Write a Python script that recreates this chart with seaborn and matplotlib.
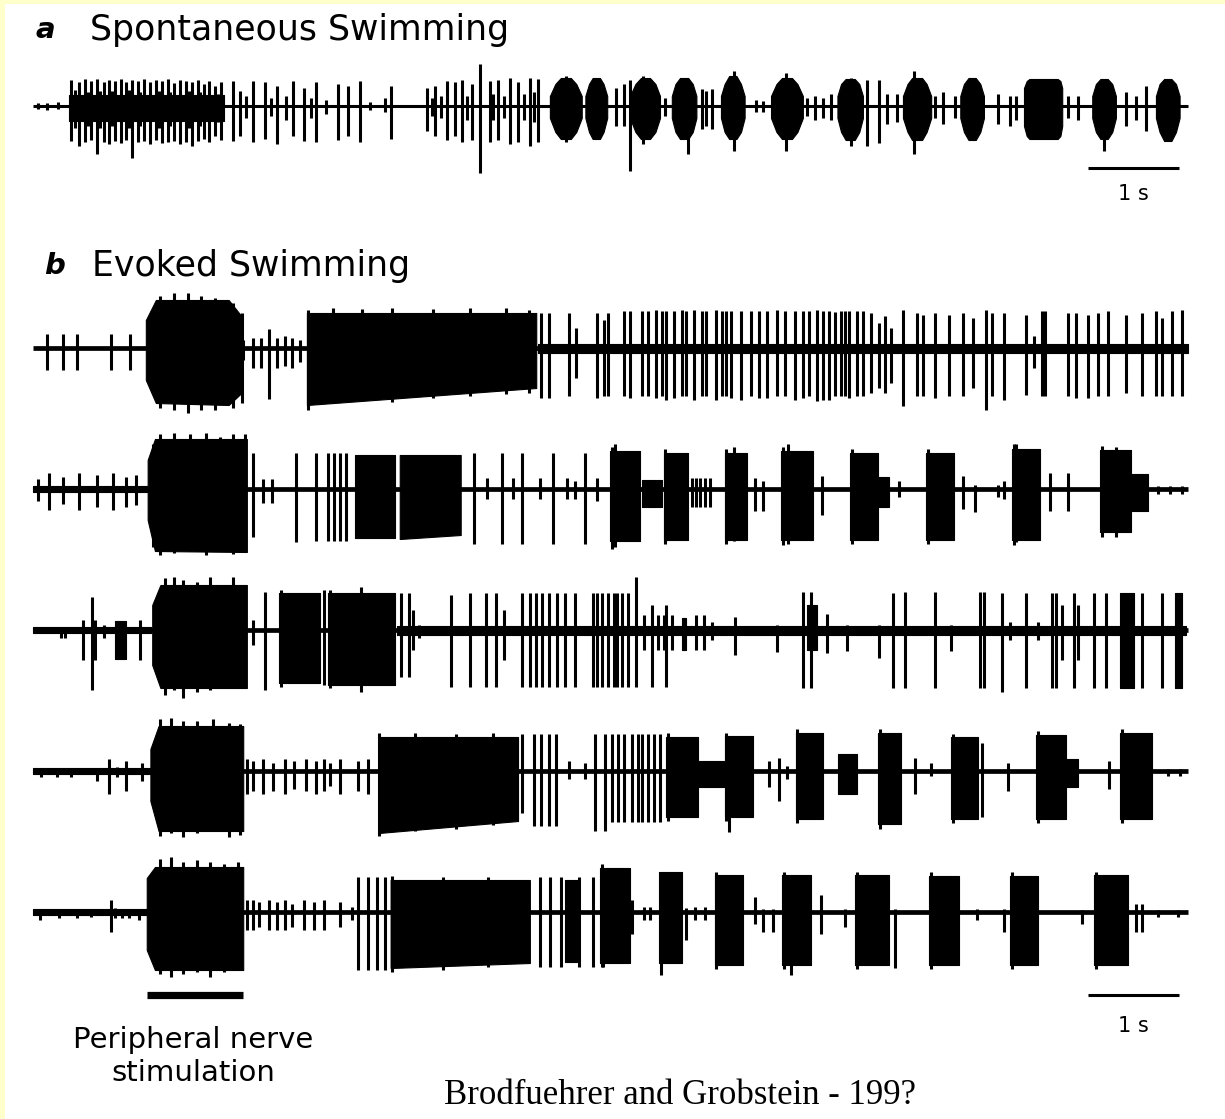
import matplotlib
matplotlib.use("Agg")
import matplotlib.pyplot as plt
import numpy as np
import pandas as pd
import seaborn as sns

# ---------------- data (time in s, amplitudes in arbitrary units, + = up) ----------------
trace_end_s = 12.69
scale_bar_s = 1.0
stim_start_s, stim_end_s = 1.25, 2.31

# ---- a : spontaneous swimming ----
a_bursts = [
    [(0.40, 11, 15), (2.10, 11, 15)],
    [(5.68, 10, 12), (5.74, 22, 26), (5.80, 28, 33), (5.91, 28, 33), (5.97, 22, 26), (6.03, 10, 12)],
    [(6.07, 10, 12), (6.11, 22, 26), (6.15, 28, 33), (6.23, 28, 33), (6.27, 22, 26), (6.31, 10, 12)],
    [(6.56, 10, 12), (6.62, 22, 26), (6.68, 28, 33), (6.78, 28, 33), (6.84, 22, 26), (6.89, 10, 12)],
    [(7.02, 10, 12), (7.06, 22, 26), (7.11, 28, 33), (7.20, 28, 33), (7.25, 22, 26), (7.29, 10, 12)],
    [(7.56, 10, 12), (7.60, 22, 26), (7.65, 30, 33), (7.73, 30, 33), (7.78, 22, 26), (7.82, 10, 12)],
    [(8.11, 10, 12), (8.17, 22, 26), (8.23, 28, 33), (8.34, 28, 33), (8.40, 22, 26), (8.46, 10, 12)],
    [(8.84, 10, 12), (8.88, 22, 26), (8.93, 27, 34), (9.03, 27, 34), (9.08, 22, 26), (9.12, 10, 12)],
    [(9.56, 10, 12), (9.61, 22, 26), (9.66, 28, 34), (9.77, 28, 34), (9.82, 22, 26), (9.87, 10, 12)],
    [(10.19, 10, 12), (10.23, 22, 26), (10.28, 28, 34), (10.36, 28, 34), (10.41, 22, 26), (10.45, 10, 12)],
    [(10.89, 18, 20), (10.92, 25, 30), (10.95, 27, 33), (11.26, 27, 33), (11.29, 25, 30), (11.31, 18, 20)],
    [(11.64, 10, 12), (11.68, 22, 26), (11.73, 27, 33), (11.81, 27, 33), (11.86, 22, 26), (11.90, 10, 12)],
    [(12.34, 10, 12), (12.38, 22, 26), (12.43, 27, 35), (12.51, 27, 35), (12.56, 22, 26), (12.60, 10, 12)],
]
a_spikes = [
    (0.05, 3, 3), (0.15, 3, 4), (0.28, 4, 3),
    (0.42, 26, 35), (0.46, 16, 22), (0.51, 24, 40), (0.57, 27, 36), (0.60, 14, 20),
    (0.64, 25, 34), (0.70, 27, 48), (0.74, 15, 22), (0.78, 24, 36), (0.84, 26, 38),
    (0.87, 15, 20), (0.90, 25, 35), (0.97, 27, 37), (1.02, 24, 34), (1.05, 16, 22),
    (1.09, 26, 52), (1.15, 25, 36), (1.18, 14, 20), (1.22, 27, 35), (1.29, 24, 38),
    (1.35, 26, 34), (1.38, 15, 22), (1.42, 25, 37), (1.48, 27, 36), (1.51, 14, 20),
    (1.55, 23, 35), (1.62, 26, 38), (1.68, 25, 36), (1.71, 15, 22), (1.75, 24, 40),
    (1.81, 26, 35), (1.84, 14, 20), (1.88, 22, 33), (1.93, 25, 36), (2.00, 20, 30),
    (2.03, 12, 16), (2.07, 24, 34),
    (2.20, 25, 35), (2.27, 15, 30), (2.34, 10, 12), (2.42, 25, 36), (2.55, 24, 33),
    (2.62, 8, 10), (2.68, 20, 38), (2.78, 10, 14), (2.86, 25, 30), (2.98, 18, 35),
    (3.05, 8, 12), (3.11, 24, 36), (3.22, 6, 8), (3.35, 22, 34), (3.46, 20, 30),
    (3.59, 25, 36), (3.70, 4, 4), (3.87, 8, 6), (3.93, 20, 33),
    (4.33, 18, 25), (4.38, 8, 10), (4.42, 20, 30), (4.48, 10, 12), (4.55, 25, 34),
    (4.64, 24, 30), (4.71, 26, 36), (4.77, 10, 14), (4.82, 22, 34), (4.91, 42, 67),
    (5.02, 25, 36), (5.06, 12, 14), (5.11, 26, 34), (5.18, 10, 12), (5.24, 28, 38),
    (5.33, 24, 36), (5.40, 12, 14), (5.46, 28, 40), (5.50, 14, 16), (5.55, 27, 36),
    (5.86, 30, 36), (6.41, 18, 20), (6.49, 22, 20), (6.56, 26, 65), (6.70, 30, 38),
    (6.95, 8, 10), (7.20, 10, 48), (7.35, 17, 23), (7.40, 15, 20), (7.46, 17, 23),
    (7.70, 35, 45), (7.95, 6, 6), (8.02, 5, 6), (8.28, 33, 45), (8.51, 8, 10),
    (8.59, 10, 14), (8.68, 8, 12), (8.77, 12, 14), (8.99, 28, 40), (9.16, 26, 40),
    (9.30, 26, 37), (9.38, 12, 18), (9.49, 12, 16), (9.68, 35, 48), (9.91, 10, 12),
    (10.00, 14, 18), (10.13, 10, 12), (10.60, 12, 18), (10.74, 10, 20), (10.80, 10, 14),
    (11.37, 10, 12), (11.48, 10, 14), (11.77, 24, 45), (12.01, 14, 20), (12.12, 10, 14),
    (12.23, 20, 25),
]

# ---- b1 ----
b1_bursts = [
    [(1.24, 28, 32), (1.35, 48, 55), (2.15, 48, 57), (2.29, 32, 45)],
    [(3.01, 35, 57), (5.53, 35, 40)],
    [(5.55, 4, 5), (12.69, 4, 5)],
]
b1_spikes = [
    (0.15, 14, 22), (0.33, 14, 22), (0.48, 14, 22), (0.86, 14, 22), (1.07, 14, 22),
    (1.40, 52, 60), (1.55, 55, 62), (1.70, 55, 65), (1.85, 52, 62), (2.00, 50, 62),
    (2.20, 45, 60), (2.30, 35, 55),
    (2.31, 8, 12), (2.42, 10, 20), (2.51, 10, 20), (2.59, 19, 51), (2.68, 10, 20),
    (2.77, 12, 18), (2.85, 10, 20), (2.93, 8, 14),
    (3.02, 38, 62), (3.30, 40, 55), (3.62, 39, 52), (3.95, 40, 54), (4.40, 39, 50),
    (4.80, 40, 48), (5.20, 40, 46), (5.45, 38, 45),
    (5.58, 35, 50), (5.67, 35, 50), (5.89, 35, 48), (5.97, 20, 30), (6.20, 35, 50),
    (6.27, 28, 48), (6.32, 35, 48), (6.49, 37, 48), (6.56, 37, 50), (6.69, 37, 48),
    (6.76, 37, 48), (6.85, 38, 50), (6.91, 37, 48), (6.96, 37, 52), (7.04, 37, 50),
    (7.13, 38, 48), (7.18, 37, 48), (7.26, 38, 52), (7.35, 37, 48), (7.40, 37, 48),
    (7.51, 38, 52), (7.57, 37, 48), (7.62, 37, 48), (7.67, 37, 50), (7.78, 37, 52),
    (7.89, 37, 48), (7.98, 37, 50), (8.07, 37, 50), (8.18, 38, 48), (8.26, 37, 48),
    (8.37, 37, 52), (8.46, 37, 50), (8.53, 37, 48), (8.62, 38, 53), (8.68, 37, 52),
    (8.75, 37, 52), (8.81, 36, 48), (8.88, 37, 48), (8.92, 37, 48), (8.97, 37, 50),
    (9.05, 37, 48), (9.12, 37, 48), (9.21, 35, 45), (9.30, 25, 40), (9.36, 32, 45),
    (9.43, 20, 35), (9.56, 38, 58), (9.71, 35, 48), (9.78, 33, 48), (9.91, 35, 50),
    (10.07, 33, 48), (10.22, 35, 48), (10.33, 30, 40), (10.47, 38, 62), (10.54, 35, 48),
    (10.67, 35, 52), (10.91, 33, 47), (11.00, 12, 20), (11.09, 37, 48), (11.12, 37, 48),
    (11.37, 35, 48), (11.46, 35, 50), (11.59, 33, 50), (11.70, 35, 48), (11.81, 37, 48),
    (12.01, 33, 45), (12.19, 35, 48), (12.34, 37, 48), (12.41, 30, 48), (12.52, 37, 48),
    (12.63, 38, 48),
]

# ---- b2 ----
b2_bursts = [
    [(0.0, 3, 3), (1.25, 3, 3)],
    [(1.26, 29, 31), (1.34, 50, 62), (2.35, 50, 63)],
    [(3.54, 34, 49), (3.98, 34, 49)],
    [(4.03, 34, 50), (4.70, 34, 46)],
    [(6.34, 38, 52), (6.67, 38, 52)],
    [(6.69, 9, 18), (6.91, 9, 18)],
    [(6.93, 36, 51), (7.20, 36, 51)],
    [(7.60, 36, 51), (7.85, 36, 51)],
    [(8.22, 38, 51), (8.57, 38, 51)],
    [(8.98, 36, 51), (9.29, 36, 51)],
    [(9.29, 12, 18), (9.41, 12, 18)],
    [(9.81, 36, 51), (10.12, 36, 51)],
    [(10.76, 40, 51), (11.07, 40, 51)],
    [(11.73, 39, 43), (12.07, 39, 43)],
    [(12.07, 15, 22), (12.25, 15, 22)],
]
b2_spikes = [
    (0.05, 10, 12), (0.18, 16, 21), (0.33, 12, 15), (0.51, 16, 21), (0.70, 14, 18),
    (0.88, 16, 21), (1.02, 12, 18), (1.13, 14, 16),
    (1.32, 45, 58), (1.40, 55, 66), (1.55, 56, 64), (1.72, 55, 62), (1.90, 56, 66),
    (2.05, 52, 62), (2.20, 55, 65), (2.33, 55, 60),
    (2.42, 36, 48), (2.53, 10, 14), (2.63, 10, 14), (2.89, 36, 53), (3.11, 36, 52),
    (3.24, 36, 52), (3.31, 36, 52), (3.37, 36, 52), (3.44, 36, 52),
    (4.85, 36, 55), (4.99, 11, 10), (5.15, 36, 55), (5.27, 11, 10), (5.37, 36, 55),
    (5.57, 11, 10), (5.71, 36, 55), (5.87, 11, 10), (5.96, 8, 10), (6.07, 36, 55),
    (6.20, 11, 12), (6.36, 42, 60), (6.40, 45, 58),
    (6.95, 40, 55), (7.62, 40, 55), (8.24, 42, 56), (9.00, 40, 55), (9.83, 40, 55),
    (10.78, 45, 56), (11.75, 43, 48), (11.90, 42, 48),
    (7.24, 11, 18), (7.29, 11, 18), (7.33, 11, 18), (7.385, 11, 18), (7.44, 11, 18),
    (7.70, 42, 52), (7.93, 11, 22), (8.02, 8, 22), (8.30, 45, 55), (8.67, 13, 26),
    (9.52, 8, 8), (10.22, 13, 20), (10.35, 4, 23), (10.60, 4, 8), (10.67, 8, 10),
    (10.80, 45, 53), (11.18, 16, 22), (11.37, 16, 22), (12.36, 3, 5), (12.49, 3, 5),
    (12.63, 3, 5),
]

# ---- b3 ----
b3_bursts = [
    [(0.0, 3, 3), (1.30, 3, 3)],
    [(0.90, 9, 29), (1.02, 9, 29)],
    [(1.31, 25, 35), (1.40, 45, 58), (2.35, 45, 58)],
    [(2.70, 37, 53), (3.15, 37, 53)],
    [(3.24, 37, 55), (3.98, 37, 55)],
    [(4.00, 4, 5), (12.67, 4, 5)],
    [(7.13, 12, 20), (7.18, 12, 20)],
    [(8.51, 25, 20), (8.62, 25, 20)],
    [(11.95, 37, 58), (12.10, 37, 58)],
    [(12.55, 37, 58), (12.63, 37, 58)],
]
b3_spikes = [
    (0.31, 2, 8), (0.35, 2, 8), (0.55, 10, 30), (0.65, 33, 60), (0.68, 10, 30),
    (0.78, 5, 8), (1.18, 10, 30),
    (1.45, 52, 65), (1.55, 53, 60), (1.65, 50, 68), (1.80, 48, 62), (1.95, 53, 60),
    (2.20, 53, 58), (2.42, 10, 15), (2.55, 38, 60), (2.72, 40, 57), (3.20, 40, 55),
    (3.26, 40, 58), (3.60, 43, 62),
    (4.04, 37, 47), (4.13, 37, 47), (4.18, 20, 20), (4.24, 5, 8), (4.59, 35, 57),
    (4.80, 37, 57), (4.98, 37, 57), (5.09, 37, 57), (5.18, 20, 30), (5.37, 37, 57),
    (5.46, 37, 57), (5.53, 37, 57), (5.59, 37, 57), (5.67, 37, 57), (5.76, 37, 57),
    (5.85, 37, 57), (5.96, 37, 57), (6.15, 37, 57), (6.20, 37, 57), (6.25, 37, 57),
    (6.32, 37, 57), (6.38, 37, 57), (6.42, 37, 57), (6.47, 37, 57), (6.54, 37, 57),
    (6.63, 53, 57), (6.71, 15, 20), (6.80, 25, 57), (6.87, 15, 20), (6.93, 15, 20),
    (6.96, 25, 57), (7.02, 15, 20), (7.29, 15, 20), (7.37, 15, 20), (7.46, 8, 10),
    (7.71, 13, 25), (8.18, 5, 22), (8.46, 38, 58), (8.55, 38, 58), (8.73, 16, 23),
    (8.95, 5, 21), (9.30, 5, 28), (9.45, 37, 58), (9.58, 38, 58), (9.91, 38, 58),
    (10.09, 5, 21), (10.41, 38, 58), (10.45, 38, 58), (10.65, 37, 62), (10.74, 8, 10),
    (10.91, 37, 58), (11.04, 8, 10), (11.20, 37, 58), (11.24, 37, 58), (11.31, 25, 30),
    (11.44, 37, 58), (11.48, 25, 30), (11.66, 37, 58), (11.79, 37, 58), (12.19, 37, 58),
    (12.41, 37, 58),
]

# ---- b4 ----
b4_bursts = [
    [(0.0, 3, 3), (1.30, 3, 3)],
    [(1.29, 22, 30), (1.38, 45, 60), (2.31, 45, 60)],
    [(3.80, 34, 62), (5.33, 34, 50)],
    [(6.96, 34, 46), (7.31, 34, 46)],
    [(7.31, 10, 16), (7.59, 10, 16)],
    [(7.60, 35, 46), (7.91, 35, 46)],
    [(8.38, 38, 48), (8.68, 38, 48)],
    [(8.85, 17, 23), (9.05, 17, 23)],
    [(9.29, 38, 53), (9.54, 38, 53)],
    [(10.09, 34, 48), (10.38, 34, 48)],
    [(11.02, 36, 48), (11.35, 36, 48)],
    [(11.35, 12, 16), (11.48, 12, 16)],
    [(11.95, 38, 48), (12.30, 38, 48)],
]
b4_spikes = [
    (0.09, 3, 6), (0.26, 3, 6), (0.42, 3, 6), (0.70, 3, 10), (0.84, 12, 23),
    (0.92, 4, 6), (1.02, 10, 20), (1.20, 8, 10),
    (1.40, 52, 65), (1.52, 53, 62), (1.65, 50, 66), (1.80, 50, 62), (1.98, 52, 60),
    (2.15, 48, 66), (2.28, 47, 64),
    (2.35, 12, 23), (2.42, 10, 20), (2.53, 12, 23), (2.64, 8, 20), (2.77, 12, 23),
    (2.87, 10, 18), (3.00, 12, 20), (3.11, 10, 23), (3.20, 12, 20), (3.26, 8, 15),
    (3.37, 12, 23), (3.57, 10, 20), (3.68, 12, 23),
    (3.80, 38, 65), (4.20, 38, 60), (4.65, 37, 58), (5.05, 38, 54),
    (5.37, 37, 42), (5.51, 37, 55), (5.58, 37, 55), (5.67, 37, 55), (5.75, 37, 55),
    (5.89, 10, 8), (6.07, 8, 8), (6.18, 37, 60), (6.29, 37, 60), (6.36, 37, 51),
    (6.43, 37, 51), (6.49, 37, 51), (6.58, 37, 51), (6.65, 37, 51), (6.69, 37, 51),
    (6.76, 37, 51), (6.82, 37, 51), (6.89, 37, 51),
    (6.98, 38, 50), (7.62, 38, 50), (8.40, 42, 52), (9.31, 42, 58), (10.11, 37, 52),
    (11.04, 40, 52), (11.97, 42, 52),
    (7.65, 35, 61), (8.09, 10, 16), (8.20, 13, 30), (8.29, 5, 8), (9.69, 13, 23),
    (9.87, 8, 5), (10.43, 28, 46), (10.71, 8, 20), (11.82, 10, 18), (12.47, 2, 5),
    (12.60, 2, 5),
]

# ---- b5 ----
b5_bursts = [
    [(0.0, 3, 3), (1.25, 3, 3)],
    [(1.25, 34, 38), (1.34, 45, 58), (2.31, 45, 58)],
    [(3.93, 32, 56), (5.46, 32, 51)],
    [(5.85, 32, 50), (5.98, 32, 50)],
    [(6.23, 44, 51), (6.56, 44, 51)],
    [(6.88, 40, 51), (7.13, 40, 51)],
    [(7.49, 37, 53), (7.80, 37, 53)],
    [(8.23, 37, 53), (8.55, 37, 53)],
    [(9.03, 37, 53), (9.41, 37, 53)],
    [(9.85, 36, 53), (10.18, 36, 53)],
    [(10.74, 36, 53), (11.04, 36, 53)],
    [(11.66, 37, 53), (12.03, 37, 53)],
]
b5_spikes = [
    (0.08, 2, 8), (0.29, 2, 6), (0.48, 2, 6), (0.64, 3, 5), (0.86, 12, 20),
    (0.90, 4, 6), (0.98, 3, 6), (1.05, 3, 6), (1.16, 3, 8),
    (1.40, 53, 62), (1.52, 55, 65), (1.65, 50, 62), (1.80, 52, 60), (1.95, 50, 65),
    (2.10, 48, 60), (2.25, 50, 58),
    (2.35, 12, 18), (2.42, 12, 18), (2.48, 10, 15), (2.59, 12, 18), (2.68, 10, 18),
    (2.77, 12, 18), (2.85, 8, 15), (2.98, 12, 18), (3.09, 10, 18), (3.20, 12, 18),
    (3.37, 10, 15), (3.50, 5, 8),
    (3.57, 35, 58), (3.68, 35, 58), (3.78, 35, 58), (3.87, 35, 58),
    (3.95, 36, 60), (4.50, 35, 58), (5.00, 35, 55),
    (5.57, 35, 55), (5.68, 35, 55), (5.80, 35, 55), (6.00, 35, 55), (6.15, 35, 55),
    (6.25, 48, 55), (6.26, 35, 55), (6.58, 12, 22), (6.71, 5, 8), (6.78, 5, 8),
    (6.90, 40, 63), (7.18, 4, 28), (7.27, 5, 8), (7.38, 5, 8), (7.51, 40, 57),
    (7.93, 15, 12), (8.02, 3, 20), (8.13, 3, 20), (8.25, 40, 57), (8.33, 37, 63),
    (8.66, 17, 22), (8.92, 3, 15), (9.05, 40, 57), (9.47, 3, 56), (9.87, 40, 57),
    (10.37, 3, 8), (10.67, 3, 20), (10.76, 40, 57), (11.53, 2, 12), (11.68, 40, 57),
    (12.12, 8, 20), (12.19, 8, 20), (12.36, 2, 5), (12.58, 2, 5),
]

# ---------------- layout / style ----------------
W, H = 1225, 1119
PX_PER_S, T0_PX = 91.0, 33.0
BG = "#FFFFCC"

sns.set_theme(style="white")
plt.rcParams["font.family"] = ["DejaVu Sans"]
plt.rcParams["text.color"] = "black"

fig = plt.figure(figsize=(W / 100, H / 100), dpi=100, facecolor=BG)
left_px, top_px = 5, 4
ax = fig.add_axes([left_px / W, 0, 1 - left_px / W, 1 - top_px / H], facecolor="white")
ax.set_xlim((left_px - T0_PX) / PX_PER_S, (W - T0_PX) / PX_PER_S)
ax.set_ylim(H, top_px)
ax.set_axis_off()
ax.add_patch(plt.Rectangle((0, 0), 1, 1, transform=ax.transAxes, color="white", zorder=0))


def draw_trace(y0, bursts, spikes, base_lw, spike_lw):
    base = pd.DataFrame({"t": [0.0, trace_end_s], "v": [y0, y0]})
    sns.lineplot(data=base, x="t", y="v", ax=ax, color="black", lw=base_lw,
                 solid_capstyle="butt", legend=False)
    for env in bursts:
        t = np.array([p[0] for p in env])
        up = np.array([p[1] for p in env])
        dn = np.array([p[2] for p in env])
        ax.fill_between(t, y0 - up, y0 + dn, color="black", lw=0.8, edgecolor="black")
    st = np.array([s[0] for s in spikes])
    su = np.array([s[1] for s in spikes])
    sd = np.array([s[2] for s in spikes])
    ax.vlines(st, y0 - su, y0 + sd, color="black", lw=spike_lw)


draw_trace(106, a_bursts, a_spikes, 2.2, 2.2)
draw_trace(348, b1_bursts, b1_spikes, 3.4, 2.2)
draw_trace(489, b2_bursts, b2_spikes, 3.4, 2.2)
draw_trace(630, b3_bursts, b3_spikes, 3.4, 2.2)
draw_trace(771, b4_bursts, b4_spikes, 3.4, 2.2)
draw_trace(912, b5_bursts, b5_spikes, 3.4, 2.2)

# scale bars & stimulus bar
sb0 = trace_end_s - 1.10
ax.hlines([168, 995], sb0, sb0 + scale_bar_s, color="black", lw=2.2)
ax.hlines(995, stim_start_s, stim_end_s, color="black", lw=5.2)


def ftext(xp, yp, s, **kw):
    fig.text(xp / W, 1 - yp / H, s, color="black", **kw)


ftext(36, 30, "a", fontsize=21, fontweight="bold", fontstyle="italic", va="center", ha="left")
ftext(90, 30, "Spontaneous Swimming", fontsize=25, va="center", ha="left")
ftext(44, 266, "b", fontsize=21, fontweight="bold", fontstyle="italic", va="center", ha="left")
ftext(92, 266, "Evoked Swimming", fontsize=25, va="center", ha="left")
ftext(1133, 194, "1 s", fontsize=15, va="center", ha="center")
ftext(1133, 1026, "1 s", fontsize=15, va="center", ha="center")
ftext(193, 1040, "Peripheral nerve", fontsize=21, va="center", ha="center")
ftext(193, 1073, "stimulation", fontsize=21, va="center", ha="center")
ftext(680, 1095, "Brodfuehrer and Grobstein - 199?", fontsize=25, va="center", ha="center",
      family=["Liberation Serif", "DejaVu Serif"])

fig.savefig("out.png", dpi=100, facecolor=BG)
